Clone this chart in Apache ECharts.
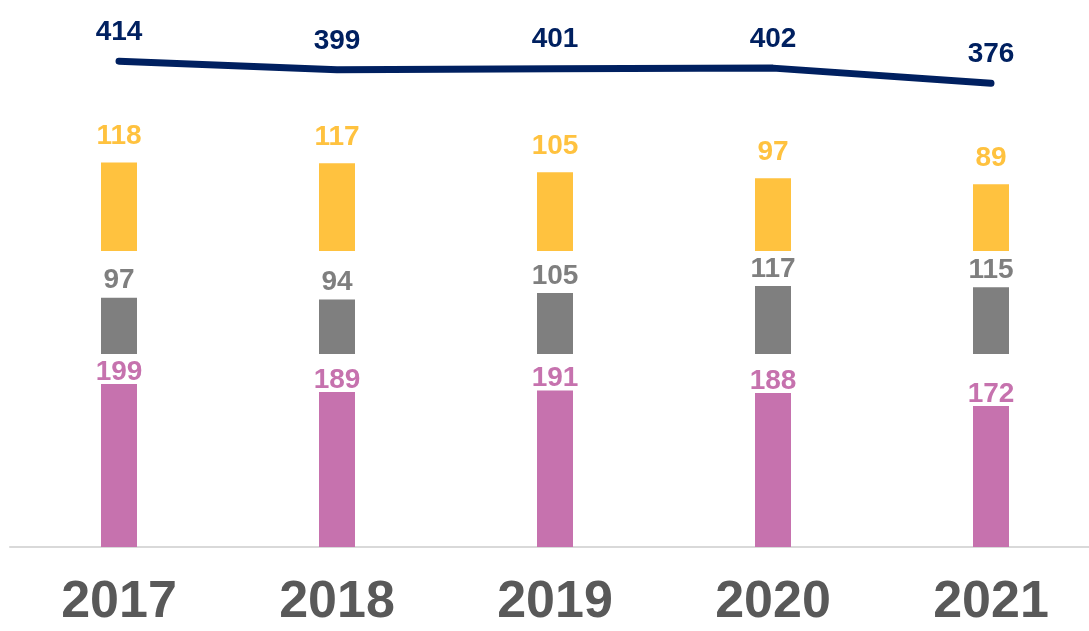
<!DOCTYPE html>
<html>
<head>
<meta charset="utf-8">
<title>Chart</title>
<script src="https://cdn.jsdelivr.net/npm/echarts@6/dist/echarts.min.js"></script>
<style>
	html, body { margin: 0; padding: 0; background: #fff; }
	#main { width: 1089px; height: 631px; }
</style>
</head>
<body>
<div id="main"></div>
<script>
// data
const years = ["2017", "2018", "2019", "2020", "2021"];
const pinkVals = [199, 189, 191, 188, 172];
const grayVals = [97, 94, 105, 117, 115];
const yellowVals = [118, 117, 105, 97, 89];
const totals = [414, 399, 401, 402, 376];

const FONT = "Liberation Sans, Arial, sans-serif";

const chartDom = document.getElementById("main");
const myChart = echarts.init(chartDom);

// each segment has its own hidden axis so the pieces sit apart like the original
const hiddenAxis = (min, max) => ({
	type: "value",
	min: min,
	max: max,
	show: false,
	splitLine: { show: false }
});

const barLabel = (color, dist) => ({
	show: true,
	position: "top",
	distance: dist,
	color: color,
	fontFamily: FONT,
	fontWeight: "bold",
	fontSize: 28
});

const option = {
	animation: false,
	grid: { left: 10, top: 20, width: 1090, height: 527, outerBoundsMode: "none" },
	xAxis: {
		type: "category",
		data: years,
		axisLine: { show: true, lineStyle: { color: "#d9d9d9", width: 2 } },
		axisTick: { show: false },
		axisLabel: {
			color: "#595959",
			fontFamily: FONT,
			fontWeight: "bold",
			fontSize: 52,
			margin: 30
		}
	},
	yAxis: [
		hiddenAxis(0, 643),
		hiddenAxis(-333, 576),
		hiddenAxis(-395, 308),
		hiddenAxis(-424, 485)
	],
	series: [
		{
			name: "Pink",
			type: "bar",
			yAxisIndex: 0,
			barWidth: 36,
			barGap: "-100%",
			itemStyle: { color: "#c672ae" },
			label: barLabel("#c672ae", -2),
			data: pinkVals
		},
		{
			name: "Gray",
			type: "bar",
			yAxisIndex: 1,
			barWidth: 36,
			barGap: "-100%",
			itemStyle: { color: "#7f7f7f" },
			label: barLabel("#7f7f7f", 3),
			data: grayVals
		},
		{
			name: "Yellow",
			type: "bar",
			yAxisIndex: 2,
			barWidth: 36,
			barGap: "-100%",
			itemStyle: { color: "#ffc23f" },
			label: barLabel("#ffc23f", 12),
			data: yellowVals
		},
		{
			name: "Total",
			type: "line",
			yAxisIndex: 3,
			symbol: "circle",
			symbolSize: 2,
			showSymbol: true,
			itemStyle: { color: "#002060" },
			lineStyle: { color: "#002060", width: 7, cap: "round", join: "round" },
			label: {
				show: true,
				position: "top",
				distance: 14,
				color: "#002060",
				fontFamily: FONT,
				fontWeight: "bold",
				fontSize: 28
			},
			data: totals
		}
	]
};

myChart.setOption(option);
</script>
</body>
</html>
